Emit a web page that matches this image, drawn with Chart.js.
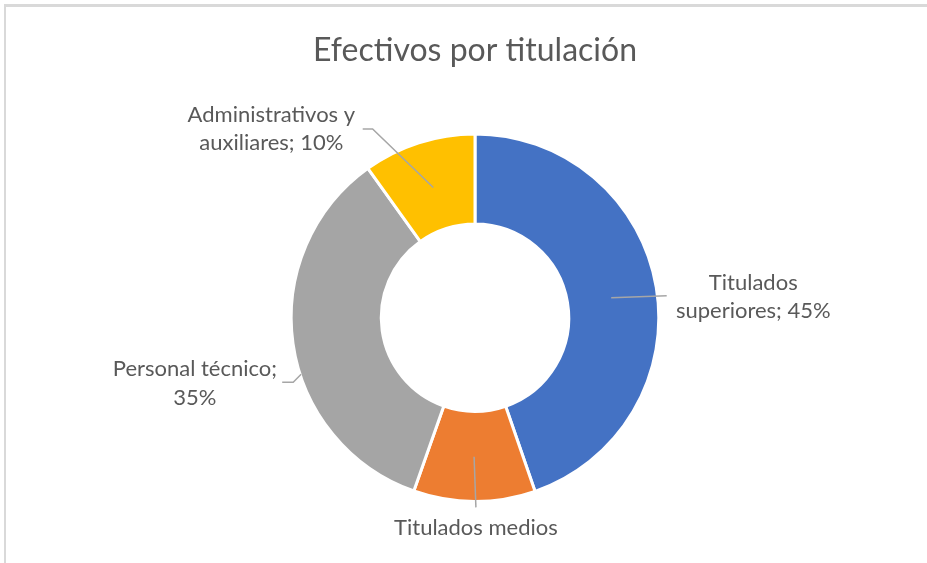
<!DOCTYPE html>
<html>
<head>
<meta charset="utf-8">
<title>Efectivos por titulación</title>
<script src="https://cdn.jsdelivr.net/npm/chart.js@4/dist/chart.umd.min.js"></script>
<style>
    html, body { margin: 0; padding: 0; background: #fff; }
    #wrap { position: relative; width: 927px; height: 563px; }
    #frame {
        position: absolute; left: 4px; top: 4px; right: 0; bottom: 0;
        border-top: 3px solid #d9d9d9; border-left: 2px solid #d9d9d9;
        pointer-events: none;
    }
</style>
</head>
<body>
<div id="wrap">
    <canvas id="doughnut-chart" width="927" height="563"></canvas>
    <div id="frame"></div>
</div>
<script>
// data (shares, labels round them)
var categories = ["Titulados superiores", "Titulados medios", "Personal técnico", "Administrativos y auxiliares"];
var shares = [44.7, 10.7, 34.7, 9.9];
var showShare = [true, false, true, true];
var sliceColors = ["#4472C4", "#ED7D31", "#A5A5A5", "#FFC000"];

// label layout, in units of the outer radius, relative to the centre
// pos = [text centre x, first baseline y]
var labelPos = [[1.514, -0.151], [0.005, 1.184], [-1.524, 0.319], [-1.108, -1.065]];
var leaders = [
    [[0.741, -0.108], [1.043, -0.119]],
    [[-0.005, 0.757], [0.005, 1.032]],
    [[-0.946, 0.308], [-0.989, 0.351], [-1.049, 0.351]],
    [[-0.227, -0.708], [-0.557, -1.027], [-0.611, -1.027]]
];

var textColor = "#595959";
var fontFamily = "Lato, 'Open Sans', sans-serif";

function wrapText(ctx, text, maxWidth) {
    var words = text.split(" ");
    var lines = [];
    var cur = "";
    words.forEach(function (w) {
        var test = cur ? cur + " " + w : w;
        if (cur && ctx.measureText(test).width > maxWidth) {
            lines.push(cur);
            cur = w;
        } else {
            cur = test;
        }
    });
    if (cur) lines.push(cur);
    return lines;
}

// draws the excel-style labels with leader lines
var sliceLabels = {
    id: "sliceLabels",
    afterDatasetsDraw: function (chart) {
        var ctx = chart.ctx;
        var arcs = chart.getDatasetMeta(0).data;
        if (!arcs.length) return;
        var cx = arcs[0].x, cy = arcs[0].y, R = arcs[0].outerRadius;
        var total = shares.reduce(function (a, b) { return a + b; }, 0);
        ctx.save();
        ctx.strokeStyle = "#a6a6a6";
        ctx.lineWidth = 1.5;
        leaders.forEach(function (pts) {
            ctx.beginPath();
            pts.forEach(function (p, i) {
                var x = cx + p[0] * R, y = cy + p[1] * R;
                if (i === 0) ctx.moveTo(x, y); else ctx.lineTo(x, y);
            });
            ctx.stroke();
        });
        ctx.font = "22px " + fontFamily;
        ctx.fillStyle = textColor;
        ctx.textAlign = "center";
        ctx.textBaseline = "alphabetic";
        categories.forEach(function (name, i) {
            var pct = Math.round(shares[i] / total * 100);
            var text = showShare[i] ? name + "; " + pct + "%" : name;
            var lines = wrapText(ctx, text, 175);
            var x = cx + labelPos[i][0] * R;
            var y = cy + labelPos[i][1] * R;
            lines.forEach(function (ln, k) {
                ctx.fillText(ln, x, y + k * 28.5);
            });
        });
        ctx.restore();
    }
};

new Chart(document.getElementById("doughnut-chart"), {
    type: 'doughnut',
    data: {
        labels: categories,
        datasets: [{
            label: "Efectivos",
            data: shares,
            backgroundColor: sliceColors,
            borderColor: "#ffffff",
            borderWidth: 3
        }]
    },
    options: {
        responsive: false,
        animation: false,
        cutout: '51%',
        layout: { padding: { top: 0, bottom: 60, left: 23, right: 0 } },
        plugins: {
            legend: { display: false },
            tooltip: { enabled: false },
            title: {
                display: true,
                text: 'Efectivos por titulación',
                color: textColor,
                font: { family: fontFamily, size: 32, weight: 'normal', lineHeight: 1.2 },
                padding: { top: 31, bottom: 63 }
            }
        }
    },
    plugins: [sliceLabels]
});
</script>
</body>
</html>
